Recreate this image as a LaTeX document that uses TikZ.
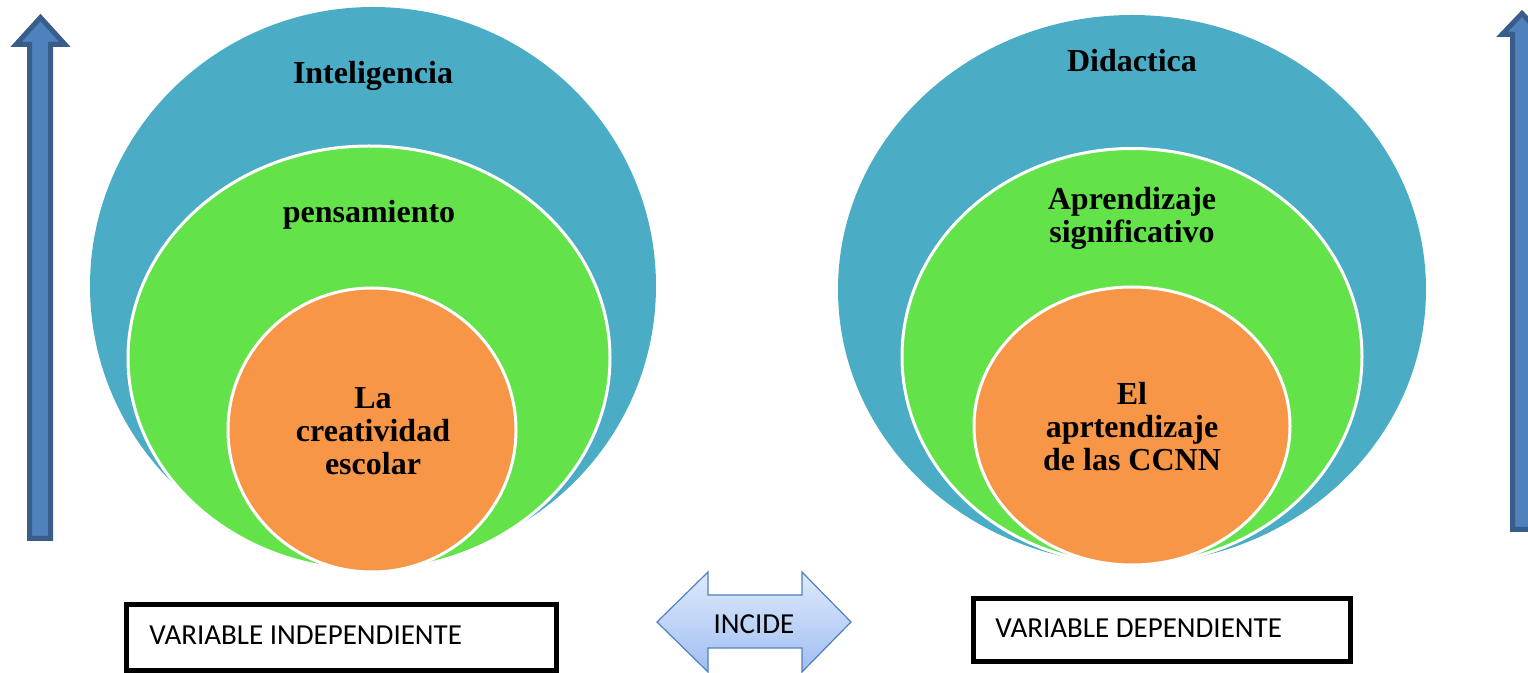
\documentclass[tikz,border=0pt]{standalone}
\usepackage{fontspec}
\setmainfont{Liberation Serif}
\newfontfamily\calibri{Carlito}

\definecolor{azulVI}{RGB}{75,172,198}
\definecolor{verdeVI}{RGB}{99,226,74}
\definecolor{naranjaVI}{RGB}{247,150,70}
\definecolor{flechaBorde}{RGB}{56,93,138}
\definecolor{flechaRelleno}{RGB}{79,129,189}
\definecolor{dobleArriba}{RGB}{222,234,252}
\definecolor{dobleAbajo}{RGB}{160,190,242}

\begin{document}
\begin{tikzpicture}[x=0.5pt, y=-0.5pt]
        % --- Definición de los estilos ---
        \tikzset{
            capa/.style={draw=white, line width=1.5pt},
            titulo/.style={font=\fontsize{16}{16.5}\selectfont\bfseries, align=center},
            flecha/.style={draw=flechaBorde, fill=flechaRelleno, line width=2.5pt},
            caja/.style={draw=black, line width=2.5pt, rectangle, inner sep=0pt},
            etiqueta/.style={font=\calibri\fontsize{14.5}{17}\selectfont, inner sep=0pt}
        }

        \useasboundingbox (0,0) rectangle (1528,673);

        % =====================================================================
        % BLOQUE IZQUIERDO : VARIABLE INDEPENDIENTE
        % =====================================================================
        \fill[azulVI] (373,286) ellipse [x radius=283, y radius=279];
        \draw[capa, fill=verdeVI] (369,358) ellipse [x radius=241, y radius=212];
        \draw[capa, fill=naranjaVI] (372,430) ellipse [x radius=144, y radius=142];

        % Textos de las capas
        \node[titulo] (intel) at (373,76) {Inteligencia};
        \node[titulo] (pensa) at (369,215) {pensamiento};
        \node[titulo] (creat) at (373,431) {La\\creatividad\\escolar};

        % Flecha vertical
        \draw[flecha] (29.5,538.5) -- (29.5,44.5) -- (16,44.5) -- (40.5,17.5)
            -- (65,44.5) -- (50.5,44.5) -- (50.5,538.5) -- cycle;

        % Recuadro
        \node[caja, minimum width=215pt, minimum height=33pt] (cajaVI) at (341.5,637.5) {};
        \node[etiqueta, anchor=west] (textoVI) at (149,635) {VARIABLE INDEPENDIENTE};

        % =====================================================================
        % BLOQUE DERECHO : VARIABLE DEPENDIENTE
        % =====================================================================
        \fill[azulVI] (1132,289.5) ellipse [x radius=294, y radius=274.5];
        \draw[capa, fill=verdeVI] (1132,356.5) ellipse [x radius=230, y radius=208];
        \draw[capa, fill=naranjaVI] (1132,426) ellipse [x radius=158, y radius=139];

        % Textos de las capas
        \node[titulo] (didac) at (1132,61) {Didactica};
        \node[titulo] (aprsig) at (1132,218) {Aprendizaje\\significativo};
        \node[titulo] (aprccnn) at (1132,427) {El\\aprtendizaje\\de las CCNN};

        % Flecha vertical (cortada por el borde)
        \draw[flecha] (1512.5,529.5) -- (1512.5,34.5) -- (1502,34.5) -- (1522,13.5)
            -- (1542,34.5) -- (1531.5,34.5) -- (1531.5,529.5) -- cycle;

        % Recuadro
        \node[caja, minimum width=188.5pt, minimum height=31.5pt] (cajaVD) at (1162,630) {};
        \node[etiqueta, anchor=west] (textoVD) at (995,628) {VARIABLE DEPENDIENTE};

        % =====================================================================
        % FLECHA CENTRAL DOBLE
        % =====================================================================
        \draw[draw=flechaRelleno, line width=0.6pt, top color=dobleArriba, bottom color=dobleAbajo]
            (657,622) -- (708,572) -- (708,595) -- (802,595) -- (802,572) -- (851,622)
            -- (802,672) -- (802,648) -- (708,648) -- (708,672) -- cycle;
        \node[etiqueta] (incide) at (754,624) {INCIDE};

    \end{tikzpicture}
\end{document}
